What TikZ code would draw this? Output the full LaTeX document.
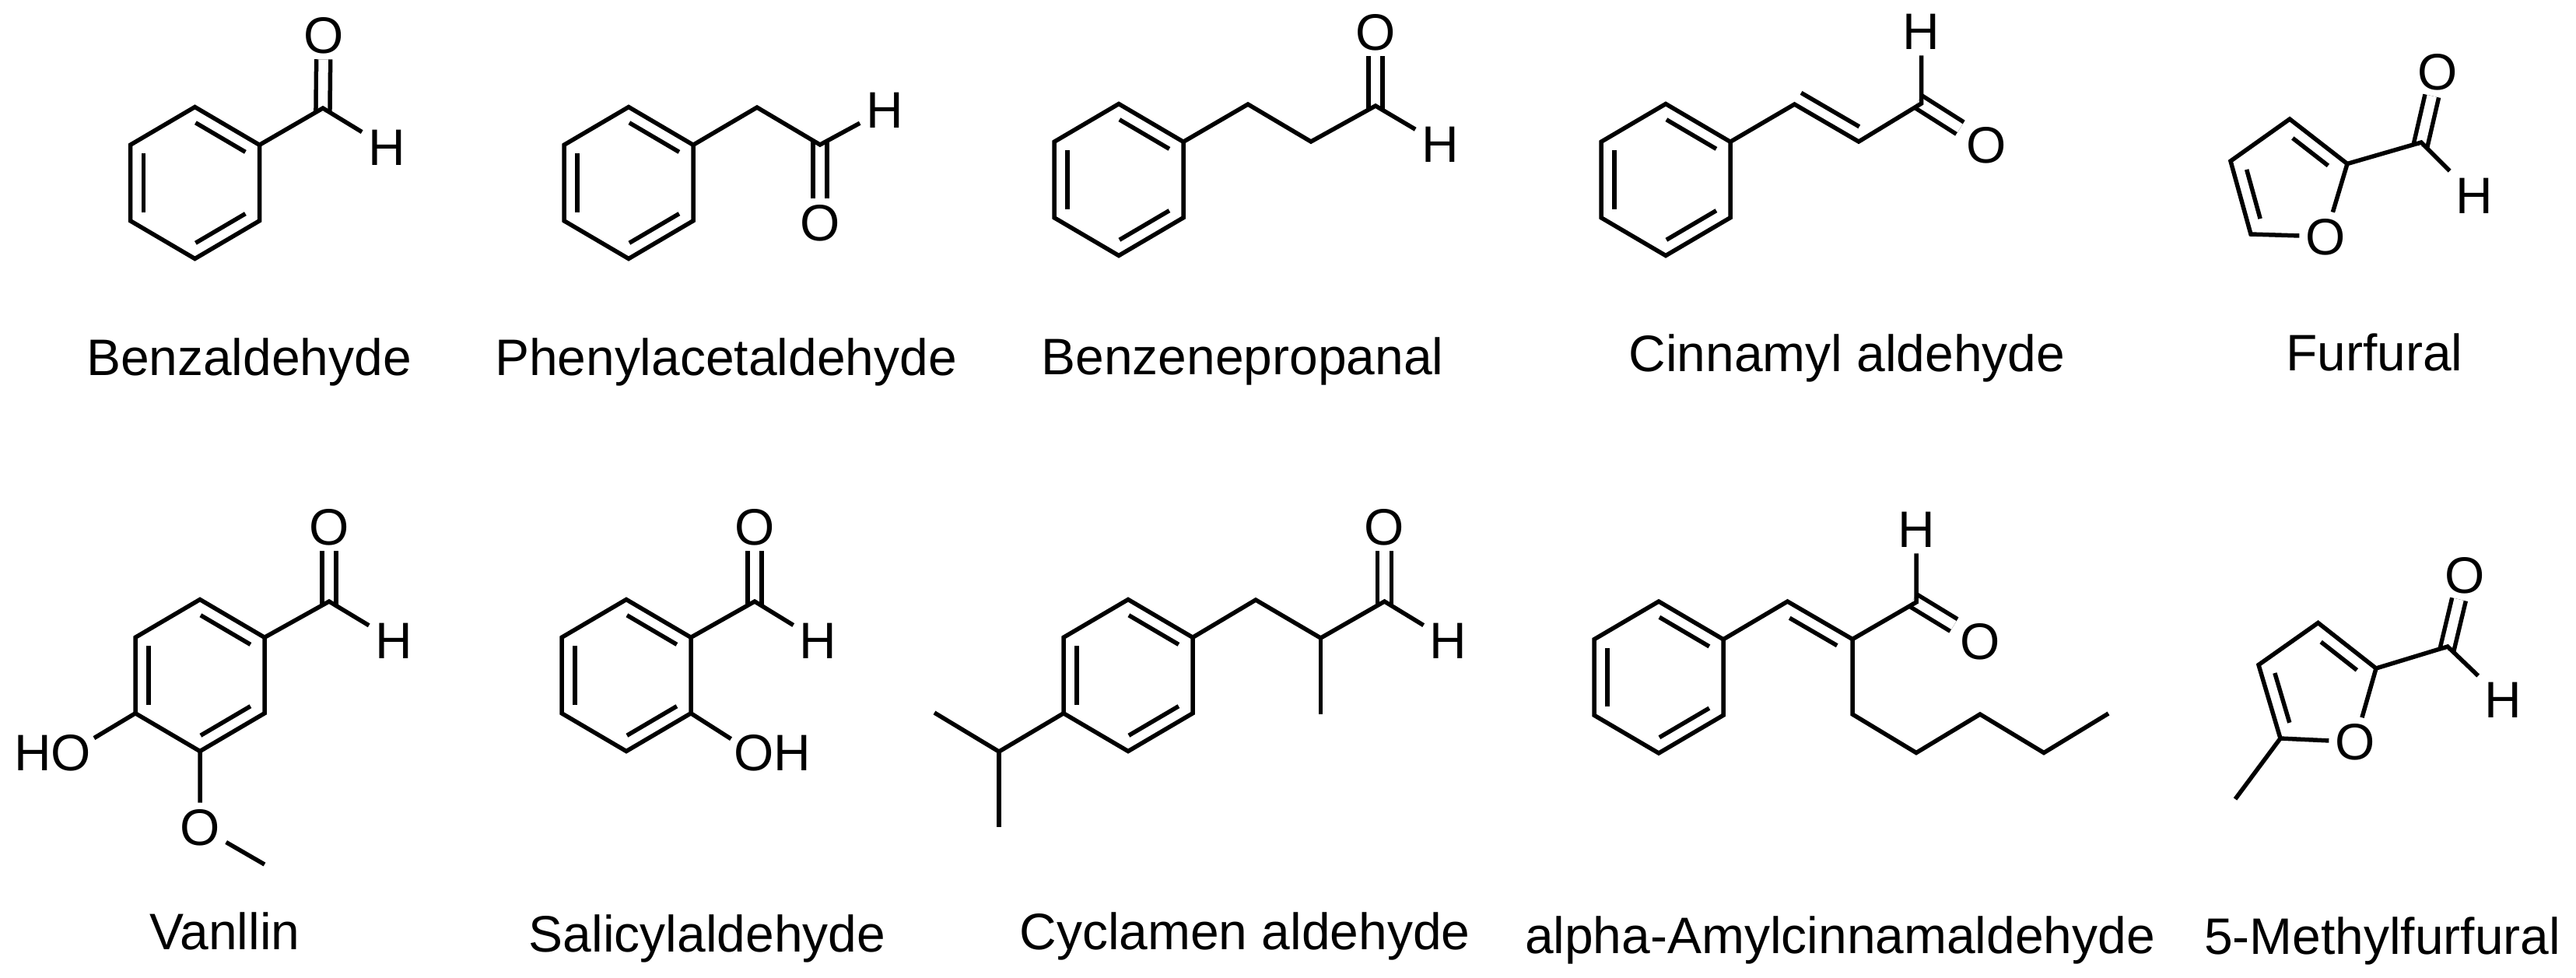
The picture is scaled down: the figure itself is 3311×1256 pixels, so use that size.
\documentclass[tikz,border=0pt]{standalone}
\usepackage{fontspec}
\setmainfont{Liberation Sans}
\usetikzlibrary{calc}
\tikzset{
  bond/.style={line width=0.055cm,line join=miter,line cap=butt},
  dbl/.style={bond,double,double distance=0.125cm,shorten <=-0.05cm},
  atom/.style={inner sep=0.08cm,outer sep=0pt,text height=0.466cm,text depth=0pt,font=\fontsize{18.75}{22}\selectfont},
  group/.style={atom,inner sep=0.04cm},
  caption/.style={inner sep=0pt,outer sep=0pt,anchor=base,font=\fontsize{18.75}{22}\selectfont}
}
% regular six-membered ring, vertices a..f clockwise from the top
\newcommand{\hexa}[3]{%
  \coordinate (#1a) at (#2,#3-97.5);
  \coordinate (#1b) at (#2+83,#3-48.75);
  \coordinate (#1c) at (#2+83,#3+48.75);
  \coordinate (#1d) at (#2,#3+97.5);
  \coordinate (#1e) at (#2-83,#3+48.75);
  \coordinate (#1f) at (#2-83,#3-48.75);
  \draw[bond] (#1a)--(#1b)--(#1c)--(#1d)--(#1e)--(#1f)--cycle;
}
% inner line of a double bond, to the right-hand side of a -> b
\newcommand{\ibx}[4]{\draw[bond] ($ ($(#1)!#3!(#2)$)!0.17cm!-90:(#2) $) -- ($ ($(#2)!#4!(#1)$)!0.17cm!90:(#1) $);}
\newcommand{\ib}[2]{\ibx{#1}{#2}{0.11cm}{0.11cm}}
\newcommand{\arom}[1]{\ib{#1a}{#1b}\ib{#1c}{#1d}\ib{#1e}{#1f}}
\begin{document}
\begin{tikzpicture}[x=0.01cm,y=-0.01cm]
\useasboundingbox (0,0) rectangle (3311,1256);
\fill[white] (0,0) rectangle (3311,1256);

% 1 Benzaldehyde
\hexa{A}{250.5}{235}\arom{A}
\coordinate (Acho) at (415,139);
\node[atom] (Ao) at (416,45) {O};
\node[atom] (Ah) at (497,189) {H};
\draw[dbl] (Acho) -- (Ao);
\draw[bond] (Ab) -- (Acho) -- (Ah);
\node[caption] (Al) at (320,482.5) {Benzaldehyde};

% 2 Phenylacetaldehyde
\hexa{B}{808}{235}\arom{B}
\coordinate (Bm) at (973,138);
\coordinate (Bcho) at (1054,186);
\node[atom] (Bo) at (1054,286) {O};
\node[atom] (Bh) at (1137,141) {H};
\draw[dbl] (Bcho) -- (Bo);
\draw[bond] (Bb) -- (Bm) -- (Bcho) -- (Bh);
\node[caption] (Bl) at (933,482) {Phenylacetaldehyde};

% 3 Benzenepropanal
\hexa{C}{1438}{231}\arom{C}
\coordinate (Cm) at (1604,134);
\coordinate (Cn) at (1685,182);
\coordinate (Ccho) at (1768,136);
\node[atom] (Co) at (1768,41) {O};
\node[atom] (Ch) at (1851,185) {H};
\draw[dbl] (Ccho) -- (Co);
\draw[bond] (Cb) -- (Cm) -- (Cn) -- (Ccho) -- (Ch);
\node[caption] (Cl) at (1597,481.5) {Benzenepropanal};

% 4 Cinnamyl aldehyde
\hexa{D}{2141}{231}\arom{D}
\coordinate (Dm) at (2306.5,134);
\coordinate (Dn) at (2389,182);
\coordinate (Dcho) at (2469.5,133);
\node[atom] (Do) at (2553,186) {O};
\node[atom] (Dh) at (2469.5,40) {H};
\draw[dbl] (Dcho) -- (Do);
\draw[bond] (Db) -- (Dm) -- (Dn) -- (Dcho) -- (Dh);
\ibx{Dn}{Dm}{0.09cm}{0cm}
\node[caption] (Dl) at (2374,477.5) {Cinnamyl aldehyde};

% 5 Furfural
\coordinate (Ea) at (2943,153);
\coordinate (Eb) at (3017,210.5);
\node[atom] (Ex) at (2989,304) {O};
\coordinate (Ed) at (2893,301);
\coordinate (Ee) at (2867,207);
\coordinate (Echo) at (3112,183);
\node[atom] (Eo) at (3133,92) {O};
\node[atom] (Eh) at (3180,251) {H};
\draw[dbl] (Echo) -- (Eo);
\draw[bond] (Ex) -- (Ed) -- (Ee) -- (Ea) -- (Eb) -- (Ex);
\draw[bond] (Eb) -- (Echo) -- (Eh);
\ibx{Ea}{Eb}{0.18cm}{0.18cm}
\ibx{Ed}{Ee}{0.16cm}{0.16cm}
\node[caption] (El) at (3052,476.5) {Furfural};

% 6 Vanillin
\hexa{F}{257}{868}\arom{F}
\coordinate (Fcho) at (423,773);
\node[atom] (Fo) at (423,677) {O};
\node[atom] (Fh) at (506,823) {H};
\node[group] (Fho) at (67.5,967) {HO};
\node[atom] (Fx) at (257,1063) {O};
\coordinate (Fme) at (340,1111);
\draw[dbl] (Fcho) -- (Fo);
\draw[bond] (Fb) -- (Fcho) -- (Fh);
\draw[bond] (Fe) -- (Fho.19);
\draw[bond] (Fd) -- (Fx) -- (Fme);
\node[caption] (Fl) at (289,1220.5) {Vanllin};

% 7 Salicylaldehyde
\hexa{G}{805}{868}\arom{G}
\coordinate (Gcho) at (970,773);
\node[atom] (Go) at (970,677) {O};
\node[atom] (Gh) at (1051.5,823) {H};
\node[group] (Goh) at (993,967) {OH};
\draw[dbl] (Gcho) -- (Go);
\draw[bond] (Gb) -- (Gcho) -- (Gh);
\draw[bond] (Gc) -- (Goh.162);
\node[caption] (Gl) at (909,1223.5) {Salicylaldehyde};

% 8 Cyclamen aldehyde
\hexa{H}{1450}{868}\arom{H}
\coordinate (Hi) at (1284,966);
\coordinate (Hi1) at (1201,916);
\coordinate (Hi2) at (1284,1063);
\coordinate (Hm) at (1614,771);
\coordinate (Hn) at (1697.5,820);
\coordinate (Hme) at (1697.5,918);
\coordinate (Hcho) at (1779.5,773);
\node[atom] (Ho) at (1779.5,677) {O};
\node[atom] (Hh) at (1861.5,823) {H};
\draw[dbl] (Hcho) -- (Ho);
\draw[bond] (Hb) -- (Hm) -- (Hn) -- (Hcho) -- (Hh);
\draw[bond] (Hn) -- (Hme);
\draw[bond] (He) -- (Hi) -- (Hi1);
\draw[bond] (Hi) -- (Hi2);
\node[caption] (Hl) at (1600,1220) {Cyclamen aldehyde};

% 9 alpha-Amylcinnamaldehyde
\hexa{J}{2132}{870.5}\arom{J}
\coordinate (Jm) at (2297.5,773);
\coordinate (Jn) at (2381,821.5);
\coordinate (Jcho) at (2463,774);
\node[atom] (Jo) at (2545,824) {O};
\node[atom] (Jh) at (2463,680) {H};
\coordinate (Jp) at (2381,918);
\coordinate (Jq) at (2463,967.5);
\coordinate (Jr) at (2545,918);
\coordinate (Js) at (2627,967.5);
\coordinate (Jt) at (2710,917);
\draw[dbl] (Jcho) -- (Jo);
\draw[bond] (Jb) -- (Jm) -- (Jn) -- (Jcho) -- (Jh);
\draw[bond] (Jn) -- (Jp) -- (Jq) -- (Jr) -- (Js) -- (Jt);
\ibx{Jm}{Jn}{0.13cm}{0.13cm}
\node[caption] (Jl) at (2365,1225.5) {alpha-Amylcinnamaldehyde};

% 10 5-Methylfurfural
\coordinate (Ka) at (2979.5,800.5);
\coordinate (Kb) at (3054,859);
\node[atom] (Kx) at (3027,953.5) {O};
\coordinate (Kd) at (2931,949);
\coordinate (Ke) at (2903,854.5);
\coordinate (Kme) at (2873,1027);
\coordinate (Kcho) at (3146,831);
\node[atom] (Ko) at (3168,739) {O};
\node[atom] (Kh) at (3217,899) {H};
\draw[dbl] (Kcho) -- (Ko);
\draw[bond] (Kx) -- (Kd) -- (Ke) -- (Ka) -- (Kb) -- (Kx);
\draw[bond] (Kb) -- (Kcho) -- (Kh);
\draw[bond] (Kd) -- (Kme);
\ibx{Ka}{Kb}{0.18cm}{0.18cm}
\ibx{Kd}{Ke}{0.16cm}{0.16cm}
\node[caption] (Kl) at (3062,1226.5) {5-Methylfurfural};
\end{tikzpicture}
\end{document}
